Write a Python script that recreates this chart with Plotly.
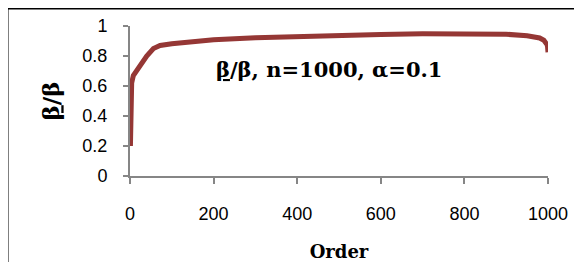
import plotly.graph_objects as go

# Data
order = [1, 2, 4, 8, 20, 40, 56, 72, 100, 150, 200, 300, 400, 500, 600,
         700, 800, 850, 900, 950, 980, 990, 995, 998, 999, 1000]
ratio = [0.20, 0.50, 0.62, 0.67, 0.72, 0.80, 0.85, 0.87, 0.882, 0.897,
         0.908, 0.922, 0.932, 0.939, 0.944, 0.948, 0.950, 0.949, 0.945,
         0.935, 0.92, 0.905, 0.89, 0.875, 0.86, 0.825]

x_ticks = [0, 200, 400, 600, 800, 1000]
y_ticks = [0, 0.2, 0.4, 0.6, 0.8, 1]
y_tick_labels = ["0", "0.2", "0.4", "0.6", "0.8", "1"]

title_text = "<u>β</u>/β, n=1000, α=0.1"
x_title = "Order"
y_title = "<u>β</u>/β"

AX = "#868686"
LINE = "#953735"
SERIF = "DejaVu Serif"
SANS = "Liberation Sans"

fig = go.Figure()
fig.add_trace(go.Scatter(
    x=order, y=ratio, mode="lines",
    line=dict(color=LINE, width=5),
    showlegend=False, hoverinfo="skip",
))

# page body has an 8px default margin; the figure is sized to compensate
fig.update_layout(
    width=574, height=254,
    margin=dict(l=122, r=34, t=18, b=86),
    paper_bgcolor="white", plot_bgcolor="white",
    showlegend=False,
)

fig.update_xaxes(
    range=[0, 1000], tickvals=x_ticks,
    showgrid=False, zeroline=False, automargin=False,
    showline=True, linecolor=AX, linewidth=2,
    ticks="outside", ticklen=6, tickwidth=2, tickcolor=AX,
    tickfont=dict(family=SANS, size=18, color="black"),
    ticklabelstandoff=14,
    title=dict(text="<b>" + x_title + "</b>",
               font=dict(family=SERIF, size=18, color="black"),
               standoff=32),
)
fig.update_yaxes(
    range=[0, 1], tickvals=y_ticks, ticktext=y_tick_labels,
    showgrid=False, zeroline=False, automargin=False,
    showline=True, linecolor=AX, linewidth=2,
    ticks="outside", ticklen=5, tickwidth=2, tickcolor=AX,
    tickfont=dict(family=SANS, size=18, color="black"),
    ticklabelstandoff=12,
    title=dict(text="<b>" + y_title + "</b>",
               font=dict(family=SERIF, size=23, color="black"),
               standoff=16),
)

fig.add_annotation(
    x=476, y=0.707, xref="x", yref="y",
    text="<b>" + title_text + "</b>", showarrow=False,
    font=dict(family=SERIF, size=21, color="black"),
    xanchor="center", yanchor="middle",
)

# outer chart border (only top and left visible in the frame)
fig.add_shape(
    type="rect", xref="paper", yref="paper",
    x0=-122.5 / 418, x1=1.3, y0=-0.8, y1=1 + 17.5 / 150,
    line=dict(color="black", width=2), fillcolor="rgba(0,0,0,0)",
    layer="below",
)

fig.write_html("out.html")
